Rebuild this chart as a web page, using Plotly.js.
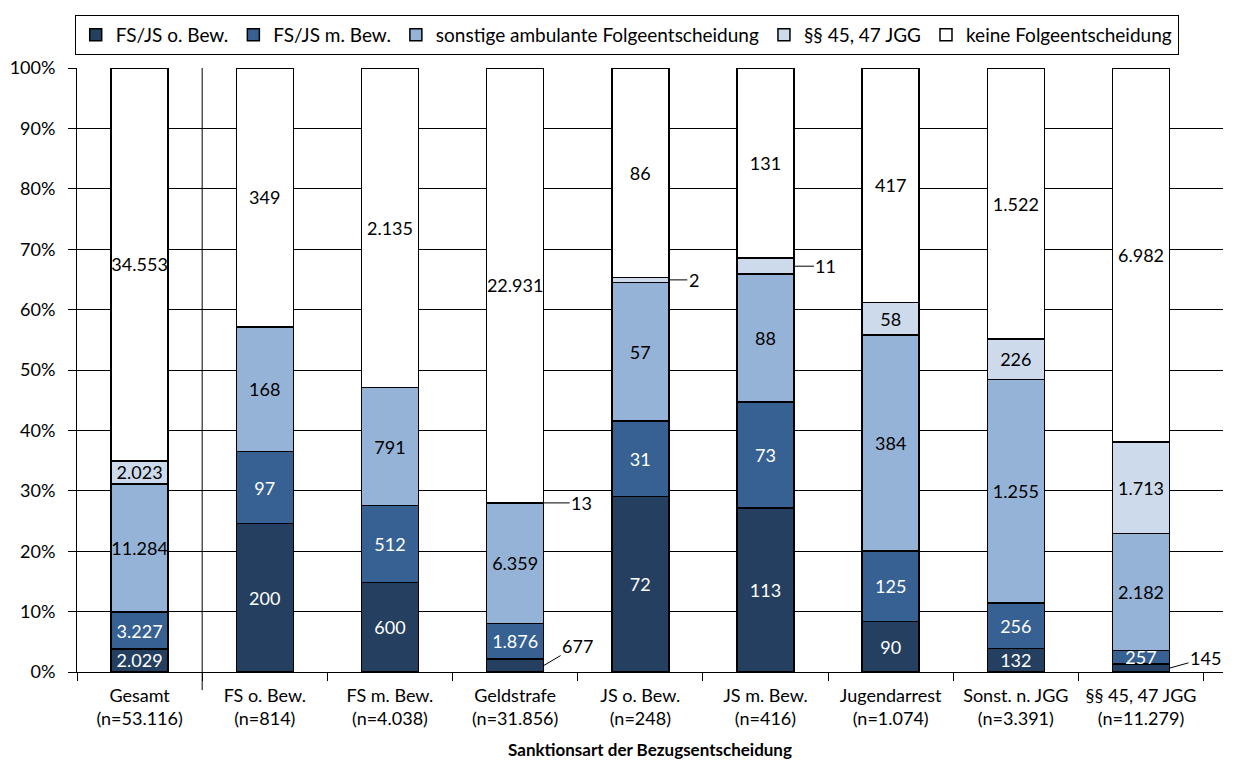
<!DOCTYPE html>
<html>
<head>
<meta charset="utf-8">
<script src="https://cdn.plot.ly/plotly-3.0.1.min.js"></script>
<style>html,body{margin:0;padding:0;background:#fff;}#chart{width:1233px;height:760px;}</style>
</head>
<body>
<div id="chart"></div>
<script>
// Categories (Sanktionsart der Bezugsentscheidung)
const categories = ["Gesamt", "FS o. Bew.", "FS m. Bew.", "Geldstrafe", "JS o. Bew.", "JS m. Bew.", "Jugendarrest", "Sonst. n. JGG", "§§ 45, 47 JGG"];
const categoryN = ["53.116", "814", "4.038", "31.856", "248", "416", "1.074", "3.391", "11.279"];

// Series (counts)
const seriesNames = ["FS/JS o. Bew.", "FS/JS m. Bew.", "sonstige ambulante Folgeentscheidung", "§§ 45, 47 JGG", "keine Folgeentscheidung"];
const fsjsOhne    = [2029, 200, 600, 677, 72, 113, 90, 132, 145];
const fsjsMit     = [3227, 97, 512, 1876, 31, 73, 125, 256, 257];
const sonstAmb    = [11284, 168, 791, 6359, 57, 88, 384, 1255, 2182];
const para4547    = [2023, 0, 0, 13, 2, 11, 58, 226, 1713];
const keineFolge  = [34553, 349, 2135, 22931, 86, 131, 417, 1522, 6982];

const series = [fsjsOhne, fsjsMit, sonstAmb, para4547, keineFolge];
const colors = ["#253F60", "#376192", "#95B3D7", "#CCDAEB", "#FFFFFF"];
const textColors = ["#FFFFFF", "#FFFFFF", "#000000", "#000000", "#000000"];

// labels placed outside the bar with a leader line: [seriesIndex, categoryIndex, ax, ay]
const outsideLabels = [[0, 3, 34, -20], [3, 3, 38, 0], [3, 4, 25, 0], [3, 5, 32, 0], [0, 8, 36, -10]];

const fmt = v => v.toString().replace(/\B(?=(\d{3})+(?!\d))/g, ".");
const tickText = categories.map((c, i) => c + "<br>(n=" + categoryN[i] + ")");
const FONT = "Lato, 'Open Sans', sans-serif";
const FS = 18;

const isOutside = (s, c) => outsideLabels.some(o => o[0] === s && o[1] === c);

const traces = series.map((vals, s) => ({
  type: "bar",
  name: seriesNames[s],
  x: categories,
  y: vals,
  text: vals.map((v, c) => (v === 0 || isOutside(s, c)) ? "" : fmt(v)),
  textposition: "inside",
  insidetextanchor: "middle",
  textangle: 0,
  textfont: {color: textColors[s], size: FS, family: FONT},
  marker: {color: colors[s], line: {color: "#000", width: 1.5}},
  hoverinfo: "name+y"
}));

const totals = categories.map((_, c) => series.reduce((a, arr) => a + arr[c], 0));
const halfBar = (1 - 0.545) / 2;

const annotations = outsideLabels.map(([s, c, ax, ay]) => {
  let below = 0;
  for (let k = 0; k < s; k++) below += series[k][c];
  const mid = (below + series[s][c] / 2) / totals[c] * 100;
  return {
    x: c + halfBar, y: mid, xref: "x", yref: "y",
    text: fmt(series[s][c]),
    showarrow: true, arrowhead: 0, arrowwidth: 1, arrowcolor: "#000",
    ax: ax, ay: ay, standoff: 0,
    font: {size: FS, color: "#000", family: FONT}
  };
});

const layout = {
  width: 1233, height: 760,
  margin: {l: 77, r: 10, t: 68, b: 88},
  paper_bgcolor: "#fff", plot_bgcolor: "#fff",
  font: {family: FONT, size: FS, color: "#000"},
  barmode: "stack",
  barnorm: "percent",
  bargap: 0.545,
  uniformtext: {mode: "show", minsize: FS},
  showlegend: true,
  legend: {
    orientation: "h", x: -0.002, xanchor: "left", y: 1.088, yanchor: "top",
    bordercolor: "#000", borderwidth: 1, traceorder: "normal",
    font: {size: 19, family: FONT, color: "#000"}, itemwidth: 30
  },
  xaxis: {
    type: "category",
    tickvals: categories, ticktext: tickText,
    tickson: "boundaries", ticks: "outside", ticklen: 8, tickcolor: "#000",
    ticklabelstandoff: 7,
    showline: true, linecolor: "#000", linewidth: 1,
    showgrid: false, zeroline: false,
    tickfont: {size: FS, family: FONT, color: "#000"},
    title: {text: "<b>Sanktionsart der Bezugsentscheidung</b>", font: {size: 17, family: FONT, color: "#000"}, standoff: 16}
  },
  yaxis: {
    range: [0, 100], dtick: 10, ticksuffix: "%",
    ticks: "outside", ticklen: 8, tickcolor: "#000",
    ticklabelstandoff: 9,
    showline: true, linecolor: "#000", linewidth: 1,
    showgrid: true, gridcolor: "#000", gridwidth: 1, zeroline: false,
    tickfont: {size: FS, family: FONT, color: "#000"}
  },
  shapes: [{
    type: "line", xref: "x", yref: "paper", x0: 0.5, x1: 0.5, y0: -0.03, y1: 1,
    line: {color: "#000", width: 1}
  }],
  annotations: annotations
};

Plotly.newPlot("chart", traces, layout, {displayModeBar: false, staticPlot: true});
</script>
</body>
</html>
